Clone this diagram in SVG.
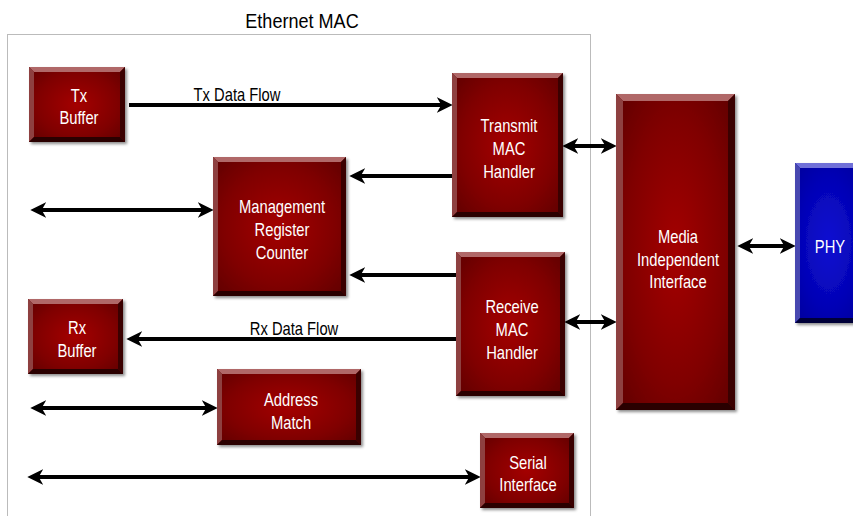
<svg xmlns="http://www.w3.org/2000/svg" width="853" height="516" viewBox="0 0 853 516">
<defs>
<radialGradient id="red" cx="0.5" cy="0.5" r="0.7">
<stop offset="0" stop-color="#a40000"/>
<stop offset="0.6" stop-color="#800000"/>
<stop offset="1" stop-color="#5e0000"/>
</radialGradient>
<radialGradient id="blue" cx="0.45" cy="0.5" r="0.8">
<stop offset="0" stop-color="#0e0ed2"/>
<stop offset="0.5" stop-color="#0404b6"/>
<stop offset="1" stop-color="#00008c"/>
</radialGradient>
<filter id="sh" x="-10%" y="-10%" width="130%" height="130%">
<feDropShadow dx="2" dy="2" stdDeviation="1.5" flood-color="#000" flood-opacity="0.45"/>
</filter>
<marker id="ah" markerUnits="userSpaceOnUse" markerWidth="16" markerHeight="16" viewBox="0 0 14 14" refX="9" refY="7" orient="auto-start-reverse">
<path d="M0,0 L14,7 L0,14 L4,7 Z" fill="#000"/>
</marker>
</defs>
<style>
.face-r{fill:url(#red)}
.face-b{fill:url(#blue)}
.rt{fill:#b06868}.rl{fill:#8e4040}.rr{fill:#3a0000}.rb{fill:#2a0000}
.bt{fill:#7070d8}.bl{fill:#4848b0}.br{fill:#000048}.bb{fill:#000038}
.lbl{font-family:"Liberation Sans",Arial,sans-serif;font-size:18px;fill:#fff;text-anchor:middle}
.cap{font-family:"Liberation Sans",Arial,sans-serif;font-size:18px;fill:#000;text-anchor:middle}
.conn{stroke:#000;stroke-width:4;fill:none}
</style>

<g id="title">
<text class="cap" style="font-size:21px" transform="translate(302,28) scale(0.86,1)">Ethernet MAC</text>
</g>
<rect id="mac-boundary" x="7.5" y="34.5" width="583" height="500" fill="none" stroke="#777" stroke-width="1" stroke-dasharray="1,1"/>

<g id="connectors">
<path class="conn" d="M129,105 L447,105" marker-end="url(#ah)"/>
<path class="conn" d="M452,176 L355,176" marker-end="url(#ah)"/>
<path class="conn" d="M456,275 L355,275" marker-end="url(#ah)"/>
<path class="conn" d="M36,210 L208,210" marker-start="url(#ah)" marker-end="url(#ah)"/>
<path class="conn" d="M568,146 L611,146" marker-start="url(#ah)" marker-end="url(#ah)"/>
<path class="conn" d="M570,322 L611,322" marker-start="url(#ah)" marker-end="url(#ah)"/>
<path class="conn" d="M743,246 L790,246" marker-start="url(#ah)" marker-end="url(#ah)"/>
<path class="conn" d="M460,339 L132,339" marker-end="url(#ah)"/>
<path class="conn" d="M36,408 L212,408" marker-start="url(#ah)" marker-end="url(#ah)"/>
<path class="conn" d="M33,477 L475,477" marker-start="url(#ah)" marker-end="url(#ah)"/>
<text class="cap" transform="translate(237,101) scale(0.82,1)">Tx Data Flow</text>
<text class="cap" transform="translate(294,335) scale(0.82,1)">Rx Data Flow</text>
</g>

<g id="tx-buffer" transform="translate(29,67)">
<g filter="url(#sh)"><rect class="face-r" width="96" height="75"/></g>
<polygon class="rt" points="0,0 96,0 91,5 5,5"/>
<polygon class="rl" points="0,0 5,5 5,70 0,75"/>
<polygon class="rr" points="96,0 96,75 91,70 91,5"/>
<polygon class="rb" points="0,75 5,70 91,70 96,75"/>
<text class="lbl" transform="translate(50,35) scale(0.82,1)">Tx</text>
<text class="lbl" transform="translate(50,57) scale(0.82,1)">Buffer</text>
</g>

<g id="management" transform="translate(213,157)">
<g filter="url(#sh)"><rect class="face-r" width="133" height="139"/></g>
<polygon class="rt" points="0,0 133,0 128,5 5,5"/>
<polygon class="rl" points="0,0 5,5 5,134 0,139"/>
<polygon class="rr" points="133,0 133,139 128,134 128,5"/>
<polygon class="rb" points="0,139 5,134 128,134 133,139"/>
<text class="lbl" transform="translate(69,56) scale(0.82,1)">Management</text>
<text class="lbl" transform="translate(69,79) scale(0.82,1)">Register</text>
<text class="lbl" transform="translate(69,102) scale(0.82,1)">Counter</text>
</g>

<g id="transmit-mac" transform="translate(452,73)">
<g filter="url(#sh)"><rect class="face-r" width="111" height="144"/></g>
<polygon class="rt" points="0,0 111,0 106,5 5,5"/>
<polygon class="rl" points="0,0 5,5 5,139 0,144"/>
<polygon class="rr" points="111,0 111,144 106,139 106,5"/>
<polygon class="rb" points="0,144 5,139 106,139 111,144"/>
<text class="lbl" transform="translate(57,59) scale(0.82,1)">Transmit</text>
<text class="lbl" transform="translate(57,82) scale(0.82,1)">MAC</text>
<text class="lbl" transform="translate(57,105) scale(0.82,1)">Handler</text>
</g>

<g id="receive-mac" transform="translate(456,252)">
<g filter="url(#sh)"><rect class="face-r" width="109" height="144"/></g>
<polygon class="rt" points="0,0 109,0 104,5 5,5"/>
<polygon class="rl" points="0,0 5,5 5,139 0,144"/>
<polygon class="rr" points="109,0 109,144 104,139 104,5"/>
<polygon class="rb" points="0,144 5,139 104,139 109,144"/>
<text class="lbl" transform="translate(56,61) scale(0.82,1)">Receive</text>
<text class="lbl" transform="translate(56,84) scale(0.82,1)">MAC</text>
<text class="lbl" transform="translate(56,107) scale(0.82,1)">Handler</text>
</g>

<g id="rx-buffer" transform="translate(28,299)">
<g filter="url(#sh)"><rect class="face-r" width="95" height="75"/></g>
<polygon class="rt" points="0,0 95,0 90,5 5,5"/>
<polygon class="rl" points="0,0 5,5 5,70 0,75"/>
<polygon class="rr" points="95,0 95,75 90,70 90,5"/>
<polygon class="rb" points="0,75 5,70 90,70 95,75"/>
<text class="lbl" transform="translate(49,35) scale(0.82,1)">Rx</text>
<text class="lbl" transform="translate(49,58) scale(0.82,1)">Buffer</text>
</g>

<g id="address-match" transform="translate(217,369)">
<g filter="url(#sh)"><rect class="face-r" width="144" height="76"/></g>
<polygon class="rt" points="0,0 144,0 139,5 5,5"/>
<polygon class="rl" points="0,0 5,5 5,71 0,76"/>
<polygon class="rr" points="144,0 144,76 139,71 139,5"/>
<polygon class="rb" points="0,76 5,71 139,71 144,76"/>
<text class="lbl" transform="translate(74,37) scale(0.82,1)">Address</text>
<text class="lbl" transform="translate(74,60) scale(0.82,1)">Match</text>
</g>

<g id="serial-interface" transform="translate(480,433)">
<g filter="url(#sh)"><rect class="face-r" width="94" height="75"/></g>
<polygon class="rt" points="0,0 94,0 89,5 5,5"/>
<polygon class="rl" points="0,0 5,5 5,70 0,75"/>
<polygon class="rr" points="94,0 94,75 89,70 89,5"/>
<polygon class="rb" points="0,75 5,70 89,70 94,75"/>
<text class="lbl" transform="translate(48,36) scale(0.82,1)">Serial</text>
<text class="lbl" transform="translate(48,58) scale(0.82,1)">Interface</text>
</g>

<g id="mii" transform="translate(616,94)">
<g filter="url(#sh)"><rect class="face-r" width="119" height="316"/></g>
<polygon class="rt" points="0,0 119,0 112,7 7,7"/>
<polygon class="rl" points="0,0 7,7 7,309 0,316"/>
<polygon class="rr" points="119,0 119,316 112,309 112,7"/>
<polygon class="rb" points="0,316 7,309 112,309 119,316"/>
<text class="lbl" transform="translate(62,149) scale(0.82,1)">Media</text>
<text class="lbl" transform="translate(62,172) scale(0.82,1)">Independent</text>
<text class="lbl" transform="translate(62,194) scale(0.82,1)">Interface</text>
</g>

<g id="phy" transform="translate(795,163)">
<g filter="url(#sh)"><rect class="face-b" width="75" height="160"/></g>
<polygon class="bt" points="0,0 75,0 70,5 5,5"/>
<polygon class="bl" points="0,0 5,5 5,155 0,160"/>
<polygon class="br" points="75,0 75,160 70,155 70,5"/>
<polygon class="bb" points="0,160 5,155 70,155 75,160"/>
<text class="lbl" transform="translate(35,90) scale(0.82,1)">PHY</text>
</g>
</svg>
